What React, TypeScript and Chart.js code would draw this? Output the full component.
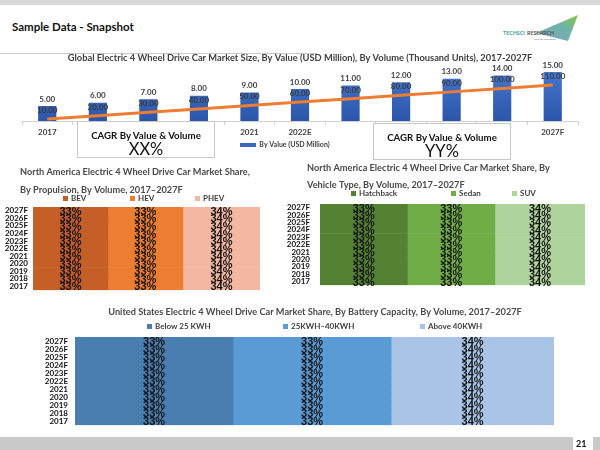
import React, { useEffect, useRef } from 'react';
import { Chart, registerables } from 'chart.js';

Chart.register(...registerables);

const FONT = "Lato, 'Open Sans', Arial, sans-serif";
const LABEL_FONT = "'Liberation Sans', Arial, sans-serif";

// ---------- Global market size chart ----------
const marketYears = ['2017', '2018', '2019', '2020', '2021', '2022E', '2023F', '2024F', '2025F', '2026F', '2027F'];
const marketValueUSDMn = [10, 20, 30, 40, 50, 60, 70, 80, 90, 100, 110];
const marketVolumeKUnits = [5, 6, 7, 8, 9, 10, 11, 12, 13, 14, 15];
const marketShownTicks = ['2017', '2021', '2022E', '2027F'];

// ---------- Share charts ----------
const shareYears = ['2017', '2018', '2019', '2020', '2021', '2022E', '2023F', '2024F', '2025F', '2026F', '2027F'];

const propulsionTypes = ['BEV', 'HEV', 'PHEV'];
const bevShare = [33, 33, 33, 33, 33, 33, 33, 33, 33, 33, 33];
const hevShare = [33, 33, 33, 33, 33, 33, 33, 33, 33, 33, 33];
const phevShare = [34, 34, 34, 34, 34, 34, 34, 34, 34, 34, 34];

const vehicleTypes = ['Hatchback', 'Sedan', 'SUV'];
const hatchbackShare = [33, 33, 33, 33, 33, 33, 33, 33, 33, 33, 33];
const sedanShare = [33, 33, 33, 33, 33, 33, 33, 33, 33, 33, 33];
const suvShare = [34, 34, 34, 34, 34, 34, 34, 34, 34, 34, 34];

const batteryTypes = ['Below 25 KWH', '25KWH\u201340KWH', 'Above 40KWH'];
const below25Share = [33, 33, 33, 33, 33, 33, 33, 33, 33, 33, 33];
const mid25to40Share = [33, 33, 33, 33, 33, 33, 33, 33, 33, 33, 33];
const above40Share = [34, 34, 34, 34, 34, 34, 34, 34, 34, 34, 34];

// ---------- plugins ----------
const customLegend = {
  id: 'customLegend',
  afterDraw(chart: any, _args: any, opts: any) {
    if (!opts || !opts.items) return;
    const a = chart.chartArea;
    const ctx = chart.ctx;
    ctx.save();
    ctx.font = `bold ${opts.fontSize || 8}px ${FONT}`;
    ctx.textBaseline = 'middle';
    ctx.textAlign = 'left';
    const bw = opts.boxW || 5;
    const bh = opts.boxH || 5;
    const items = opts.items as { text: string; color: string }[];
    const widths = items.map((it) => bw + 3 + ctx.measureText(it.text).width);
    const total = widths.reduce((s, w) => s + w, 0) + (opts.gap || 40) * (items.length - 1);
    let x = (a.left + a.right) / 2 + (opts.dx || 0) - total / 2;
    const y = opts.below ? a.bottom + opts.dy : a.top - opts.dy;
    items.forEach((it, i) => {
      const sx = opts.starts ? a.left + opts.starts[i] : x;
      ctx.fillStyle = it.color;
      ctx.fillRect(Math.round(sx), Math.round(y - bh / 2), bw, bh);
      ctx.fillStyle = '#404040';
      ctx.fillText(it.text, sx + bw + 3, y);
      x += widths[i] + (opts.gap || 40);
    });
    ctx.restore();
  },
};

const blockTitle = {
  id: 'blockTitle',
  afterDraw(chart: any, _args: any, opts: any) {
    if (!opts || !opts.lines) return;
    const ctx = chart.ctx;
    ctx.save();
    ctx.font = `bold ${opts.size}px ${FONT}`;
    ctx.fillStyle = '#4a4a4a';
    ctx.textAlign = opts.align;
    ctx.textBaseline = 'middle';
    opts.lines.forEach((t: string, i: number) => ctx.fillText(t, opts.x, opts.y + i * opts.gap));
    ctx.restore();
  },
};

const shareLabels = {
  id: 'shareLabels',
  afterDatasetsDraw(chart: any) {
    const ctx = chart.ctx;
    ctx.save();
    ctx.font = `bold 11px ${LABEL_FONT}`;
    ctx.fillStyle = '#111111';
    ctx.textAlign = 'center';
    ctx.textBaseline = 'middle';
    chart.data.datasets.forEach((ds: any, di: number) => {
      const meta = chart.getDatasetMeta(di);
      meta.data.forEach((el: any, i: number) => {
        const p = el.getProps(['x', 'y', 'base'], true);
        ctx.fillText(ds.data[i] + '%', (p.x + p.base) / 2, p.y + 1);
      });
    });
    ctx.restore();
  },
};

const marketLabels = {
  id: 'marketLabels',
  afterDatasetsDraw(chart: any) {
    const ctx = chart.ctx;
    const barMeta = chart.getDatasetMeta(1);
    const lineData = chart.data.datasets[0].data;
    const barData = chart.data.datasets[1].data;
    ctx.save();
    ctx.font = `bold 8px ${FONT}`;
    ctx.textAlign = 'center';
    ctx.textBaseline = 'middle';
    barMeta.data.forEach((el: any, i: number) => {
      const p = el.getProps(['x', 'y'], true);
      ctx.fillStyle = '#3a3a3a';
      ctx.fillText(Number(barData[i]).toFixed(2), p.x, p.y + 4.5);
      ctx.fillStyle = '#404040';
      ctx.fillText(Number(lineData[i]).toFixed(2), p.x, p.y - 7);
    });
    ctx.restore();
  },
};

// ---------- chart canvas ----------
function ChartCanvas(props: { left: number; top: number; width: number; height: number; build: () => any }) {
  const ref = useRef<HTMLCanvasElement>(null);
  useEffect(() => {
    const chart = new Chart(ref.current as HTMLCanvasElement, props.build());
    return () => chart.destroy();
  }, []);
  return (
    <canvas
      ref={ref}
      width={props.width}
      height={props.height}
      style={{ position: 'absolute', left: props.left, top: props.top, width: props.width, height: props.height }}
    />
  );
}

function marketConfig() {
  return {
    type: 'bar',
    data: {
      labels: marketYears,
      datasets: [
        {
          type: 'line',
          label: 'By Volume (Thousand Units)',
          data: marketVolumeKUnits,
          yAxisID: 'y2',
          borderColor: '#ED7D31',
          borderWidth: 3,
          pointRadius: 0,
          order: 0,
        },
        {
          type: 'bar',
          label: 'By Value (USD Million)',
          data: marketValueUSDMn,
          yAxisID: 'y',
          base: -34,
          backgroundColor: (c: any) => {
            const a = c.chart.chartArea;
            if (!a) return '#4472C4';
            const g = c.chart.ctx.createLinearGradient(0, a.top, 0, a.bottom);
            g.addColorStop(0, '#4A7BD6');
            g.addColorStop(1, '#2B56A8');
            return g;
          },
          barPercentage: 0.45,
          categoryPercentage: 0.8,
          order: 1,
        },
      ],
    },
    options: {
      responsive: false,
      animation: false,
      devicePixelRatio: 1,
      layout: { padding: { left: 22, right: 22, top: 0, bottom: 21.4 } },
      scales: {
        x: {
          grid: { display: true, drawOnChartArea: false, drawTicks: true, tickLength: 4, color: '#D0D0D0', offset: true },
          border: { display: true, color: '#D0D0D0' },
          ticks: {
            font: { family: FONT, size: 8, weight: 'bold' },
            color: '#404040',
            padding: 3,
            autoSkip: false,
            maxRotation: 0,
            callback: (_v: any, i: number) => (marketShownTicks.includes(marketYears[i]) ? marketYears[i] : ''),
          },
        },
        y: { display: false, min: -34, max: 136 },
        y2: { display: false, min: 4.44, max: 21.44 },
      },
      plugins: {
        legend: { display: false },
        tooltip: { enabled: false },
        title: {
          display: true,
          text: 'Global Electric 4 Wheel Drive Car Market Size, By Value (USD Million), By Volume (Thousand Units), 2017-2027F',
          color: '#404040',
          font: { family: FONT, size: 9.3, weight: 'bold', lineHeight: 1.2 },
          padding: { top: 2, bottom: 0 },
        },
        customLegend: {
          items: [{ text: 'By Value (USD Million)', color: '#3A66BE' }],
          below: true,
          dy: 24,
          dx: -15,
          boxW: 16,
          boxH: 4,
          fontSize: 7,
        },
      },
    },
    plugins: [marketLabels, customLegend],
  };
}

function shareConfig(p: any) {
  return {
    type: 'bar',
    data: {
      labels: shareYears,
      datasets: p.series.map((s: any) => ({
        label: s.label,
        data: s.data,
        backgroundColor: s.color,
        borderWidth: 0,
        barPercentage: 1,
        categoryPercentage: 1,
      })),
    },
    options: {
      indexAxis: 'y',
      responsive: false,
      animation: false,
      devicePixelRatio: 1,
      layout: { padding: p.padding },
      scales: {
        x: { stacked: true, display: false, min: 0, max: 100 },
        y: {
          stacked: true,
          reverse: true,
          grid: { display: false, drawTicks: false, tickLength: 0 },
          border: { display: false },
          ticks: { font: { family: FONT, size: 8, weight: 'bold' }, color: '#111111', padding: p.tickPadding, autoSkip: false },
          afterFit: (s: any) => {
            s.width = p.axisWidth;
          },
        },
      },
      plugins: {
        legend: { display: false },
        tooltip: { enabled: false },
        title: { display: false },
        blockTitle: p.title,
        customLegend: {
          items: p.series.map((s: any) => ({ text: s.label, color: s.color })),
          dy: p.legendDy,
          starts: p.legendStarts,
          fontSize: 8,
        },
      },
    },
    plugins: [shareLabels, customLegend, blockTitle],
  };
}

const propulsionColors = ['#C55F27', '#ED7D31', '#F4B8A2'];
const vehicleColors = ['#548235', '#70AD47', '#AFD39C'];
const batteryColors = ['#4A7DB0', '#5B9BD5', '#A9C4E6'];

function CagrBox(props: { left: number; top: number; value: string }) {
  return (
    <div
      style={{
        position: 'absolute',
        left: props.left,
        top: props.top,
        width: 138,
        height: 37,
        background: '#fff',
        border: '1px solid #C8C8C8',
        boxSizing: 'border-box',
        textAlign: 'center',
        fontFamily: FONT,
      }}
    >
      <div style={{ position: 'absolute', left: 0, right: 0, top: 7, fontSize: 9.7, fontWeight: 700, lineHeight: '12px', color: '#111' }}>
        CAGR By Value &amp; Volume
      </div>
      <div style={{ position: 'absolute', left: 0, right: 0, top: 16.5, fontSize: 16.5, lineHeight: '20px', color: '#111' }}>{props.value}</div>
    </div>
  );
}

function Logo() {
  return (
    <svg style={{ position: 'absolute', left: 495, top: 8, width: 95, height: 40 }} width={95} height={40} viewBox="495 8 95 40">
      <defs>
        <linearGradient id="lg" x1="0" y1="1" x2="1" y2="0">
          <stop offset="0" stopColor="#7FA3C0" />
          <stop offset="0.6" stopColor="#6FB3A8" />
          <stop offset="1" stopColor="#8CC63F" />
        </linearGradient>
      </defs>
      <polygon points="536,33 578,15 568,41 552,37" fill="url(#lg)" />
      <text x="503" y="35" fontFamily={FONT} fontSize="5.3" fontWeight="700" fill="#3BA39A">TECHSCI</text>
      <text x="527" y="35" fontFamily={FONT} fontSize="5.3" fontWeight="700" fill="#555">RESEARCH</text>
      <text x="534" y="40" fontFamily={FONT} fontSize="2.6" fill="#666">your tail of success</text>
    </svg>
  );
}

export default function App() {
  return (
    <div style={{ position: 'fixed', left: 0, top: 0, width: 600, height: 450, background: '#fff', overflow: 'hidden', fontFamily: FONT }}>
      <div style={{ position: 'absolute', left: 0, top: 0, width: 600, height: 5, background: '#D9D9D9' }} />
      <div style={{ position: 'absolute', left: 12, top: 19, fontSize: 11.5, fontWeight: 700, color: '#111', lineHeight: '16px', whiteSpace: 'nowrap' }}>
        Sample Data - Snapshot
      </div>
      <div style={{ position: 'absolute', left: 0, top: 53, width: 317, height: 1, background: '#C8C8C8' }} />
      <Logo />

      <ChartCanvas left={0} top={50} width={600} height={112} build={marketConfig} />
      <CagrBox left={77} top={121} value="XX%" />
      <CagrBox left={373} top={123} value="YY%" />

      <ChartCanvas
        left={0}
        top={160}
        width={268}
        height={140}
        build={() =>
          shareConfig({
            title: {
              lines: ['North America Electric 4 Wheel Drive Car Market Share,', 'By Propulsion, By Volume, 2017\u20132027F'],
              align: 'left',
              x: 20,
              y: 12,
              gap: 18,
              size: 9.2,
            },
            padding: { left: 0, right: 8, top: 47, bottom: 4 },
            axisWidth: 33,
            tickPadding: 5,
            legendDy: 9,
            legendStarts: [30, 97, 162],
            series: [
              { label: propulsionTypes[0], data: bevShare, color: propulsionColors[0] },
              { label: propulsionTypes[1], data: hevShare, color: propulsionColors[1] },
              { label: propulsionTypes[2], data: phevShare, color: propulsionColors[2] },
            ],
          })
        }
      />

      <ChartCanvas
        left={285}
        top={150}
        width={315}
        height={150}
        build={() =>
          shareConfig({
            title: {
              lines: ['North America Electric 4 Wheel Drive Car Market Share, By', 'Vehicle Type, By Volume, 2017\u20132027F'],
              align: 'left',
              x: 22,
              y: 18,
              gap: 17,
              size: 9.2,
            },
            padding: { left: 0, right: 15, top: 54, bottom: 3 },
            axisWidth: 35,
            tickPadding: 10,
            legendDy: 11,
            legendStarts: [31, 131, 192],
            series: [
              { label: vehicleTypes[0], data: hatchbackShare, color: vehicleColors[0] },
              { label: vehicleTypes[1], data: sedanShare, color: vehicleColors[1] },
              { label: vehicleTypes[2], data: suvShare, color: vehicleColors[2] },
            ],
          })
        }
      />

      <ChartCanvas
        left={0}
        top={300}
        width={600}
        height={137}
        build={() =>
          shareConfig({
            title: {
              lines: ['United States Electric 4 Wheel Drive Car Market Share, By Battery Capacity, By Volume, 2017\u20132027F'],
              align: 'center',
              x: 315,
              y: 12,
              gap: 0,
              size: 9.2,
            },
            padding: { left: 0, right: 46, top: 37, bottom: 5 },
            axisWidth: 75,
            tickPadding: 7,
            legendDy: 11,
            legendStarts: [72, 208, 345],
            series: [
              { label: batteryTypes[0], data: below25Share, color: batteryColors[0] },
              { label: batteryTypes[1], data: mid25to40Share, color: batteryColors[1] },
              { label: batteryTypes[2], data: above40Share, color: batteryColors[2] },
            ],
          })
        }
      />

      <div style={{ position: 'absolute', left: 0, top: 437, width: 573, height: 13, background: '#C9C9C9' }} />
      <div style={{ position: 'absolute', left: 576, top: 437, fontSize: 9, fontWeight: 700, lineHeight: '13px', color: '#111' }}>21</div>
      <div style={{ position: 'absolute', left: 593, top: 437, width: 7, height: 13, background: '#C9C9C9' }} />
    </div>
  );
}
